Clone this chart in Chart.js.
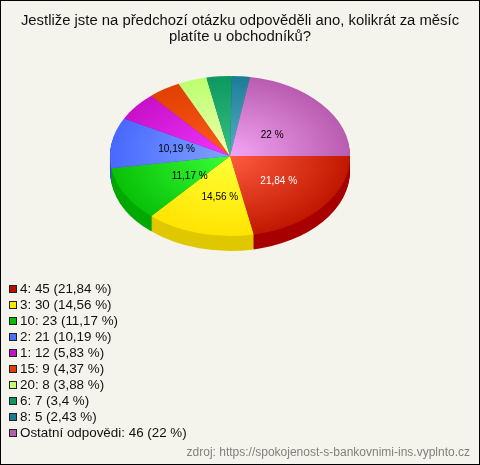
<!DOCTYPE html>
<html>
<head>
<meta charset="utf-8">
<script src="https://cdn.jsdelivr.net/npm/chart.js@4"></script>
<style>
html, body { margin: 0; padding: 0; }
#wrap { position: relative; width: 480px; height: 465px; background: #f4f4ec; overflow: hidden; font-family: "Liberation Sans", Arial, sans-serif; }
#wrap canvas { position: absolute; left: 0; top: 0; }
#frame { position: absolute; left: 0; top: 0; width: 478px; height: 463px; border: 1px solid #000; pointer-events: none; }
#legend { position: absolute; left: 9px; top: 281px; }
#legend div { height: 16px; line-height: 16px; font-size: 13.4px; color: #111; white-space: nowrap; }
#legend i { display: inline-block; box-sizing: border-box; width: 8px; height: 8px; border: 1px solid #222; margin-right: 3px; vertical-align: 0; }
#source { position: absolute; right: 10px; top: 445px; font-size: 12px; color: #808080; line-height: 15px; }
</style>
</head>
<body>
<div id="wrap">
  <canvas id="canvas" width="480" height="465"></canvas>
  <div id="legend"></div>
  <div id="source">zdroj: https://spokojenost-s-bankovnimi-ins.vyplnto.cz</div>
  <div id="frame"></div>
</div>
<script>
const titleLines = ['Jestliže jste na předchozí otázku odpověděli ano, kolikrát za měsíc', 'platíte u obchodníků?'];
const categories = ['4', '3', '10', '2', '1', '15', '20', '6', '8', 'Ostatní odpovědi'];
const counts = [45, 30, 23, 21, 12, 9, 8, 7, 5, 46];
const percents = ['21,84', '14,56', '11,17', '10,19', '5,83', '4,37', '3,88', '3,4', '2,43', '22'];

const innerColors = ['#ff5c40', '#ffff38', '#38ff38', '#80a4ff', '#f035ff', '#ff5a20', '#f0ffb0', '#38c084', '#55b0c4', '#f5a5f5'];
const outerColors = ['#c01800', '#ffe400', '#08c008', '#4868ff', '#c810c8', '#e04000', '#bcff70', '#0c9860', '#1c7c98', '#b85cb0'];
const sideColors = ['#a80000', '#e0c800', '#00a800', '#3850c0', '#a000a0', '#b03000', '#90c050', '#087048', '#105c70', '#8c4488'];
const legendColors = ['#b81000', '#ffe800', '#00c000', '#4870ff', '#c810c8', '#e04000', '#c4ff70', '#0c9860', '#1c7c98', '#b85cb0'];

// where the flattened pie sits on the page
const PIE_X = 230, PIE_Y = 156, RADIUS = 120, SQUASH = 2 / 3, DEPTH = 15;
const LABEL_MIN = 10;
// hand tweaks so the labels land where the original has them, by slice
const labelNudge = { 0: [4, 0], 1: [2, 3], 2: [6, 1], 3: [-1, 0], 9: [-2, 5] };

function toPie(ctx, arc) {
    ctx.translate(PIE_X, PIE_Y);
    ctx.scale(1, SQUASH);
    ctx.translate(-arc.x, -arc.y);
}

const pie3d = {
    id: 'pie3d',
    beforeDatasetsDraw(chart) {
        const ctx = chart.ctx;
        const arcs = chart.getDatasetMeta(0).data;
        for (let d = DEPTH; d >= 1; d--) {
            arcs.forEach((arc, i) => {
                ctx.save();
                ctx.translate(0, d);
                toPie(ctx, arc);
                ctx.fillStyle = sideColors[i];
                ctx.beginPath();
                ctx.moveTo(arc.x, arc.y);
                ctx.arc(arc.x, arc.y, arc.outerRadius, arc.startAngle, arc.endAngle);
                ctx.closePath();
                ctx.fill();
                ctx.restore();
            });
        }
        ctx.save();
        toPie(ctx, arcs[0]);
    },
    afterDatasetsDraw(chart) {
        const ctx = chart.ctx;
        ctx.restore();
        const arcs = chart.getDatasetMeta(0).data;
        ctx.save();
        ctx.font = '10px "Liberation Sans", Arial, sans-serif';
        ctx.textAlign = 'center';
        ctx.textBaseline = 'middle';
        arcs.forEach((arc, i) => {
            if (parseFloat(percents[i].replace(',', '.')) < LABEL_MIN) return;
            const mid = (arc.startAngle + arc.endAngle) / 2;
            const nudge = labelNudge[i] || [0, 0];
            const x = PIE_X + Math.cos(mid) * arc.outerRadius * 0.46 + 2 + nudge[0];
            const y = PIE_Y + Math.sin(mid) * arc.outerRadius * SQUASH * 0.5 + nudge[1];
            ctx.fillStyle = i === 0 ? '#ffffff' : '#000000';
            ctx.fillText(percents[i] + ' %', x, y);
        });
        ctx.restore();
    }
};

function sliceFill(c) {
    const area = c.chart.chartArea;
    if (!area) return outerColors[c.dataIndex];
    const x = (area.left + area.right) / 2, y = (area.top + area.bottom) / 2;
    const g = c.chart.ctx.createRadialGradient(x, y, 0, x, y, RADIUS);
    g.addColorStop(0, innerColors[c.dataIndex]);
    g.addColorStop(1, outerColors[c.dataIndex]);
    return g;
}

new Chart(document.getElementById('canvas').getContext('2d'), {
    type: 'pie',
    data: {
        labels: categories,
        datasets: [{ data: counts, backgroundColor: sliceFill, borderWidth: 0 }]
    },
    options: {
        responsive: false,
        animation: false,
        rotation: 90,
        radius: RADIUS,
        layout: { padding: { bottom: 100 } },
        plugins: {
            legend: { display: false },
            tooltip: { enabled: false },
            title: {
                display: true,
                text: titleLines,
                color: '#111',
                font: { family: '"Liberation Sans", Arial, sans-serif', size: 14.85, weight: 'normal', lineHeight: 1.09 },
                padding: { top: 13, bottom: 10 }
            }
        }
    },
    plugins: [pie3d]
});

const legend = document.getElementById('legend');
categories.forEach((name, i) => {
    const row = document.createElement('div');
    const box = document.createElement('i');
    box.style.background = legendColors[i];
    row.appendChild(box);
    row.appendChild(document.createTextNode(name + ': ' + counts[i] + ' (' + percents[i] + ' %)'));
    legend.appendChild(row);
});
</script>
</body>
</html>
